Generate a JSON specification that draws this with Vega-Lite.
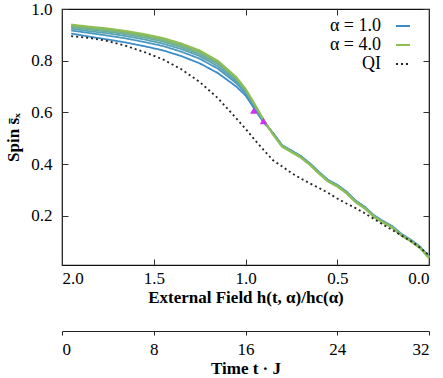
{
  "$schema": "https://vega.github.io/schema/vega-lite/v6.json",
  "width": 367,
  "height": 256,
  "autosize": {"type": "none"},
  "padding": {"left": 62, "top": 9, "right": 14, "bottom": 113},
  "config": {
    "view": {"stroke": "#111", "strokeWidth": 1.2},
    "font": "Liberation Serif",
    "axis": {
      "labelFont": "Liberation Serif", "labelFontSize": 17, "labelColor": "#000",
      "titleFont": "Liberation Serif", "titleFontSize": 17, "titleFontWeight": "bold", "titleColor": "#000",
      "tickColor": "#333", "tickWidth": 1, "grid": false
    },
    "legend": {"labelFont": "Liberation Serif", "labelFontSize": 18, "labelColor": "#000"}
  },
  "datasets": {
    "curves": [
      {"a":"1.0","h":1.95,"s":0.905},{"a":"1.0","h":1.85,"s":0.893},{"a":"1.0","h":1.75,"s":0.882},{"a":"1.0","h":1.65,"s":0.870},{"a":"1.0","h":1.55,"s":0.856},{"a":"1.0","h":1.45,"s":0.840},{"a":"1.0","h":1.35,"s":0.818},{"a":"1.0","h":1.25,"s":0.790},{"a":"1.0","h":1.15,"s":0.752},{"a":"1.0","h":1.05,"s":0.700},{"a":"1.0","h":1.0,"s":0.666},{"a":"1.0","h":0.95,"s":0.612},{"a":"1.0","h":0.9,"s":0.560},{"a":"1.0","h":0.85,"s":0.521},{"a":"1.0","h":0.8,"s":0.473},{"a":"1.0","h":0.75,"s":0.453},{"a":"1.0","h":0.7,"s":0.432},{"a":"1.0","h":0.65,"s":0.404},{"a":"1.0","h":0.6,"s":0.370},{"a":"1.0","h":0.55,"s":0.339},{"a":"1.0","h":0.5,"s":0.320},{"a":"1.0","h":0.45,"s":0.294},{"a":"1.0","h":0.4,"s":0.259},{"a":"1.0","h":0.35,"s":0.235},{"a":"1.0","h":0.3,"s":0.202},{"a":"1.0","h":0.25,"s":0.180},{"a":"1.0","h":0.2,"s":0.160},{"a":"1.0","h":0.15,"s":0.130},{"a":"1.0","h":0.1,"s":0.108},{"a":"1.0","h":0.05,"s":0.082},{"a":"1.0","h":0.0,"s":0.043},
      {"a":"1.5","h":1.95,"s":0.917},{"a":"1.5","h":1.85,"s":0.907},{"a":"1.5","h":1.75,"s":0.897},{"a":"1.5","h":1.65,"s":0.886},{"a":"1.5","h":1.55,"s":0.872},{"a":"1.5","h":1.45,"s":0.857},{"a":"1.5","h":1.35,"s":0.835},{"a":"1.5","h":1.25,"s":0.808},{"a":"1.5","h":1.15,"s":0.769},{"a":"1.5","h":1.05,"s":0.713},{"a":"1.5","h":1.0,"s":0.675},{"a":"1.5","h":0.95,"s":0.619},{"a":"1.5","h":0.9,"s":0.564},{"a":"1.5","h":0.85,"s":0.520},{"a":"1.5","h":0.8,"s":0.472},{"a":"1.5","h":0.75,"s":0.452},{"a":"1.5","h":0.7,"s":0.431},{"a":"1.5","h":0.65,"s":0.403},{"a":"1.5","h":0.6,"s":0.369},{"a":"1.5","h":0.55,"s":0.338},{"a":"1.5","h":0.5,"s":0.319},{"a":"1.5","h":0.45,"s":0.293},{"a":"1.5","h":0.4,"s":0.258},{"a":"1.5","h":0.35,"s":0.234},{"a":"1.5","h":0.3,"s":0.201},{"a":"1.5","h":0.25,"s":0.179},{"a":"1.5","h":0.2,"s":0.159},{"a":"1.5","h":0.15,"s":0.129},{"a":"1.5","h":0.1,"s":0.107},{"a":"1.5","h":0.05,"s":0.081},{"a":"1.5","h":0.0,"s":0.042},
      {"a":"2.0","h":1.95,"s":0.924},{"a":"2.0","h":1.85,"s":0.914},{"a":"2.0","h":1.75,"s":0.906},{"a":"2.0","h":1.65,"s":0.895},{"a":"2.0","h":1.55,"s":0.882},{"a":"2.0","h":1.45,"s":0.866},{"a":"2.0","h":1.35,"s":0.845},{"a":"2.0","h":1.25,"s":0.818},{"a":"2.0","h":1.15,"s":0.778},{"a":"2.0","h":1.05,"s":0.720},{"a":"2.0","h":1.0,"s":0.680},{"a":"2.0","h":0.95,"s":0.624},{"a":"2.0","h":0.9,"s":0.566},{"a":"2.0","h":0.85,"s":0.519},{"a":"2.0","h":0.8,"s":0.471},{"a":"2.0","h":0.75,"s":0.451},{"a":"2.0","h":0.7,"s":0.430},{"a":"2.0","h":0.65,"s":0.402},{"a":"2.0","h":0.6,"s":0.368},{"a":"2.0","h":0.55,"s":0.337},{"a":"2.0","h":0.5,"s":0.318},{"a":"2.0","h":0.45,"s":0.292},{"a":"2.0","h":0.4,"s":0.257},{"a":"2.0","h":0.35,"s":0.233},{"a":"2.0","h":0.3,"s":0.200},{"a":"2.0","h":0.25,"s":0.178},{"a":"2.0","h":0.2,"s":0.158},{"a":"2.0","h":0.15,"s":0.128},{"a":"2.0","h":0.1,"s":0.106},{"a":"2.0","h":0.05,"s":0.080},{"a":"2.0","h":0.0,"s":0.041},
      {"a":"2.5","h":1.95,"s":0.930},{"a":"2.5","h":1.85,"s":0.920},{"a":"2.5","h":1.75,"s":0.912},{"a":"2.5","h":1.65,"s":0.902},{"a":"2.5","h":1.55,"s":0.889},{"a":"2.5","h":1.45,"s":0.874},{"a":"2.5","h":1.35,"s":0.852},{"a":"2.5","h":1.25,"s":0.825},{"a":"2.5","h":1.15,"s":0.786},{"a":"2.5","h":1.05,"s":0.726},{"a":"2.5","h":1.0,"s":0.684},{"a":"2.5","h":0.95,"s":0.627},{"a":"2.5","h":0.9,"s":0.567},{"a":"2.5","h":0.85,"s":0.518},{"a":"2.5","h":0.8,"s":0.470},{"a":"2.5","h":0.75,"s":0.450},{"a":"2.5","h":0.7,"s":0.429},{"a":"2.5","h":0.65,"s":0.401},{"a":"2.5","h":0.6,"s":0.367},{"a":"2.5","h":0.55,"s":0.336},{"a":"2.5","h":0.5,"s":0.317},{"a":"2.5","h":0.45,"s":0.291},{"a":"2.5","h":0.4,"s":0.256},{"a":"2.5","h":0.35,"s":0.232},{"a":"2.5","h":0.3,"s":0.199},{"a":"2.5","h":0.25,"s":0.177},{"a":"2.5","h":0.2,"s":0.157},{"a":"2.5","h":0.15,"s":0.127},{"a":"2.5","h":0.1,"s":0.105},{"a":"2.5","h":0.05,"s":0.079},{"a":"2.5","h":0.0,"s":0.040},
      {"a":"3.0","h":1.95,"s":0.934},{"a":"3.0","h":1.85,"s":0.925},{"a":"3.0","h":1.75,"s":0.917},{"a":"3.0","h":1.65,"s":0.907},{"a":"3.0","h":1.55,"s":0.895},{"a":"3.0","h":1.45,"s":0.879},{"a":"3.0","h":1.35,"s":0.858},{"a":"3.0","h":1.25,"s":0.831},{"a":"3.0","h":1.15,"s":0.791},{"a":"3.0","h":1.05,"s":0.730},{"a":"3.0","h":1.0,"s":0.687},{"a":"3.0","h":0.95,"s":0.629},{"a":"3.0","h":0.9,"s":0.568},{"a":"3.0","h":0.85,"s":0.517},{"a":"3.0","h":0.8,"s":0.469},{"a":"3.0","h":0.75,"s":0.449},{"a":"3.0","h":0.7,"s":0.428},{"a":"3.0","h":0.65,"s":0.400},{"a":"3.0","h":0.6,"s":0.366},{"a":"3.0","h":0.55,"s":0.335},{"a":"3.0","h":0.5,"s":0.316},{"a":"3.0","h":0.45,"s":0.290},{"a":"3.0","h":0.4,"s":0.255},{"a":"3.0","h":0.35,"s":0.231},{"a":"3.0","h":0.3,"s":0.198},{"a":"3.0","h":0.25,"s":0.176},{"a":"3.0","h":0.2,"s":0.156},{"a":"3.0","h":0.15,"s":0.126},{"a":"3.0","h":0.1,"s":0.104},{"a":"3.0","h":0.05,"s":0.078},{"a":"3.0","h":0.0,"s":0.039},
      {"a":"3.5","h":1.95,"s":0.937},{"a":"3.5","h":1.85,"s":0.929},{"a":"3.5","h":1.75,"s":0.922},{"a":"3.5","h":1.65,"s":0.911},{"a":"3.5","h":1.55,"s":0.899},{"a":"3.5","h":1.45,"s":0.884},{"a":"3.5","h":1.35,"s":0.863},{"a":"3.5","h":1.25,"s":0.836},{"a":"3.5","h":1.15,"s":0.796},{"a":"3.5","h":1.05,"s":0.734},{"a":"3.5","h":1.0,"s":0.690},{"a":"3.5","h":0.95,"s":0.631},{"a":"3.5","h":0.9,"s":0.569},{"a":"3.5","h":0.85,"s":0.516},{"a":"3.5","h":0.8,"s":0.468},{"a":"3.5","h":0.75,"s":0.448},{"a":"3.5","h":0.7,"s":0.427},{"a":"3.5","h":0.65,"s":0.399},{"a":"3.5","h":0.6,"s":0.365},{"a":"3.5","h":0.55,"s":0.334},{"a":"3.5","h":0.5,"s":0.315},{"a":"3.5","h":0.45,"s":0.289},{"a":"3.5","h":0.4,"s":0.254},{"a":"3.5","h":0.35,"s":0.230},{"a":"3.5","h":0.3,"s":0.197},{"a":"3.5","h":0.25,"s":0.175},{"a":"3.5","h":0.2,"s":0.155},{"a":"3.5","h":0.15,"s":0.125},{"a":"3.5","h":0.1,"s":0.103},{"a":"3.5","h":0.05,"s":0.077},{"a":"3.5","h":0.0,"s":0.038},
      {"a":"4.0","h":1.95,"s":0.940},{"a":"4.0","h":1.85,"s":0.932},{"a":"4.0","h":1.75,"s":0.925},{"a":"4.0","h":1.65,"s":0.915},{"a":"4.0","h":1.55,"s":0.903},{"a":"4.0","h":1.45,"s":0.888},{"a":"4.0","h":1.35,"s":0.867},{"a":"4.0","h":1.25,"s":0.840},{"a":"4.0","h":1.15,"s":0.800},{"a":"4.0","h":1.05,"s":0.737},{"a":"4.0","h":1.0,"s":0.692},{"a":"4.0","h":0.95,"s":0.633},{"a":"4.0","h":0.9,"s":0.570},{"a":"4.0","h":0.85,"s":0.514},{"a":"4.0","h":0.8,"s":0.466},{"a":"4.0","h":0.75,"s":0.446},{"a":"4.0","h":0.7,"s":0.425},{"a":"4.0","h":0.65,"s":0.397},{"a":"4.0","h":0.6,"s":0.363},{"a":"4.0","h":0.55,"s":0.332},{"a":"4.0","h":0.5,"s":0.313},{"a":"4.0","h":0.45,"s":0.287},{"a":"4.0","h":0.4,"s":0.252},{"a":"4.0","h":0.35,"s":0.228},{"a":"4.0","h":0.3,"s":0.195},{"a":"4.0","h":0.25,"s":0.173},{"a":"4.0","h":0.2,"s":0.153},{"a":"4.0","h":0.15,"s":0.123},{"a":"4.0","h":0.1,"s":0.101},{"a":"4.0","h":0.05,"s":0.075},{"a":"4.0","h":0.0,"s":0.036},
      {"a":"QI","h":1.95,"s":0.895},{"a":"QI","h":1.85,"s":0.888},{"a":"QI","h":1.75,"s":0.876},{"a":"QI","h":1.65,"s":0.857},{"a":"QI","h":1.55,"s":0.833},{"a":"QI","h":1.45,"s":0.805},{"a":"QI","h":1.35,"s":0.767},{"a":"QI","h":1.25,"s":0.718},{"a":"QI","h":1.15,"s":0.655},{"a":"QI","h":1.05,"s":0.577},{"a":"QI","h":1.0,"s":0.537},{"a":"QI","h":0.95,"s":0.494},{"a":"QI","h":0.9,"s":0.454},{"a":"QI","h":0.85,"s":0.415},{"a":"QI","h":0.8,"s":0.391},{"a":"QI","h":0.75,"s":0.366},{"a":"QI","h":0.7,"s":0.345},{"a":"QI","h":0.65,"s":0.326},{"a":"QI","h":0.6,"s":0.308},{"a":"QI","h":0.55,"s":0.289},{"a":"QI","h":0.5,"s":0.267},{"a":"QI","h":0.45,"s":0.248},{"a":"QI","h":0.4,"s":0.230},{"a":"QI","h":0.35,"s":0.210},{"a":"QI","h":0.3,"s":0.188},{"a":"QI","h":0.25,"s":0.166},{"a":"QI","h":0.2,"s":0.145},{"a":"QI","h":0.15,"s":0.124},{"a":"QI","h":0.1,"s":0.103},{"a":"QI","h":0.05,"s":0.078},{"a":"QI","h":0.0,"s":0.048}
    ],
    "crit": [{"h": 0.955, "s": 0.607}, {"h": 0.902, "s": 0.567}],
    "time": [{"t": 0}, {"t": 32}]
  },
  "layer": [
    {
      "data": {"name": "curves"},
      "mark": {"type": "line"},
      "encoding": {
        "x": {"field": "h", "type": "quantitative",
              "scale": {"domain": [0, 2], "reverse": true, "nice": false},
              "axis": {"orient": "bottom", "values": [0, 0.5, 1, 1.5, 2], "format": ".1f", "tickSize": -6, "labelPadding": 11, "domain": false,
                       "title": "External Field   h(t, α)/hc(α)", "titlePadding": 3}},
        "y": {"field": "s", "type": "quantitative",
              "scale": {"domain": [0.01, 1], "nice": false, "zero": false},
              "axis": {"orient": "left", "values": [0.2, 0.4, 0.6, 0.8, 1.0], "format": ".1f", "tickSize": -6, "labelPadding": 16, "domain": false,
                       "title": "Spin  s̄ₓ", "titlePadding": 8}},
        "color": {"field": "a", "type": "nominal",
                  "scale": {"domain": ["1.0","1.5","2.0","2.5","3.0","3.5","4.0","QI"],
                            "range": ["#3a8cc8","#4a98c0","#5aa3b5","#68ab9f","#75b386","#82b96c","#8fbe52","#222222"]},
                  "legend": {"orient": "none", "legendX": 332, "legendY": 8, "title": null, "values": ["1.0","4.0","QI"],
                             "labelExpr": "datum.label == 'QI' ? 'QI' : 'α = ' + datum.label",
                             "symbolType": "stroke", "symbolSize": 196, "symbolStrokeWidth": 1.3,
                             "labelAlign": "right", "labelOffset": -31, "rowPadding": 1, "padding": 0}},
        "strokeDash": {"field": "a", "type": "nominal",
                  "scale": {"domain": ["1.0","1.5","2.0","2.5","3.0","3.5","4.0","QI"],
                            "range": [[1,0],[1,0],[1,0],[1,0],[1,0],[1,0],[1,0],[2,3]]},
                  "legend": {"orient": "none", "legendX": 332, "legendY": 8, "title": null, "values": ["1.0","4.0","QI"],
                             "labelExpr": "datum.label == 'QI' ? 'QI' : 'α = ' + datum.label",
                             "symbolType": "stroke", "symbolSize": 196, "symbolStrokeWidth": 1.3,
                             "labelAlign": "right", "labelOffset": -31, "rowPadding": 1, "padding": 0}},
        "strokeWidth": {"field": "a", "type": "nominal",
                  "scale": {"domain": ["1.0","1.5","2.0","2.5","3.0","3.5","4.0","QI"],
                            "range": [1.8, 1.8, 1.8, 1.8, 1.8, 1.8, 1.8, 1.1]},
                  "legend": null}
      }
    },
    {
      "data": {"name": "crit"},
      "mark": {"type": "point", "shape": "triangle-up", "filled": true, "color": "#cc33ee", "size": 55, "opacity": 1},
      "encoding": {
        "x": {"field": "h", "type": "quantitative",
              "scale": {"domain": [0, 2], "reverse": true, "nice": false},
              "axis": {"orient": "top", "values": [0, 0.5, 1, 1.5, 2], "tickSize": -6, "labels": false, "domain": false, "title": null}},
        "y": {"field": "s", "type": "quantitative",
              "axis": {"orient": "right", "values": [0.2, 0.4, 0.6, 0.8, 1.0], "tickSize": -6, "labels": false, "domain": false, "title": null}}
      }
    },
    {
      "data": {"name": "time"},
      "mark": {"type": "point", "opacity": 0},
      "encoding": {
        "x": {"field": "t", "type": "quantitative",
              "scale": {"domain": [0, 32], "nice": false},
              "axis": {"orient": "bottom", "offset": 66, "values": [0, 8, 16, 24, 32], "format": "d", "tickSize": 4, "labelPadding": 6,
                       "domain": true, "domainColor": "#222", "tickColor": "#222",
                       "title": "Time   t · J", "titleFontSize": 17, "titlePadding": 3}}
      }
    }
  ],
  "resolve": {"scale": {"x": "independent"}, "axis": {"x": "independent", "y": "independent"}}
}
